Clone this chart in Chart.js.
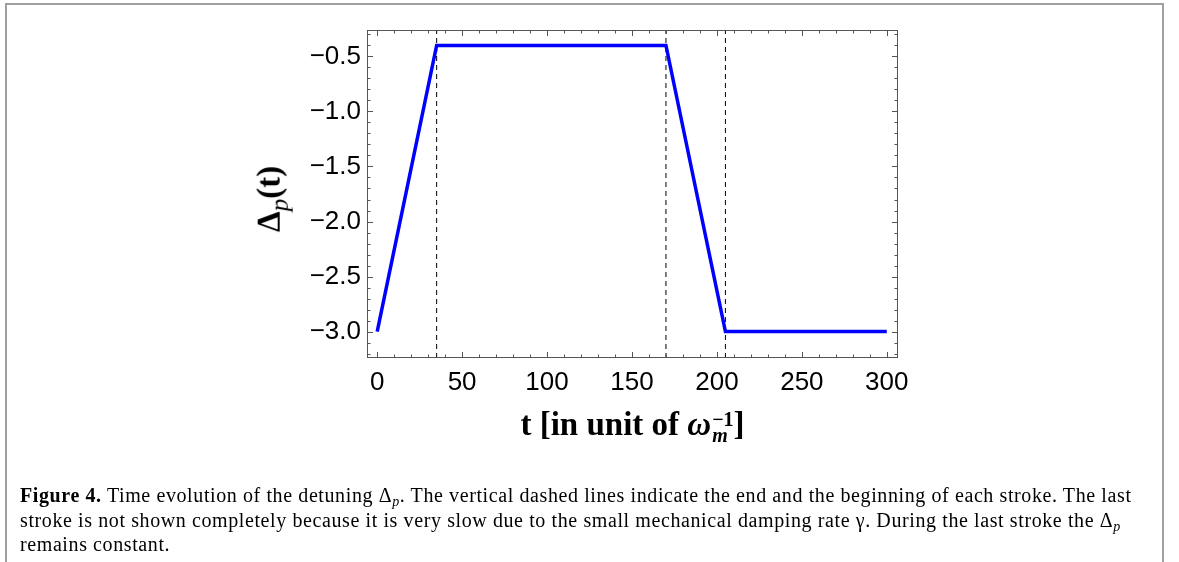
<!DOCTYPE html>
<html>
<head>
<meta charset="utf-8">
<script src="https://cdn.jsdelivr.net/npm/chart.js@4.4.1/dist/chart.umd.min.js"></script>
<style>
    html, body { margin: 0; padding: 0; background: #fff; }
    body { width: 1179px; height: 562px; position: relative; overflow: hidden; }
    #frame {
        position: absolute; left: 5px; top: 3px; width: 1155px; height: 600px;
        border: 2px solid #a0a0a0; border-bottom: none;
    }
    #chart-detuning { position: absolute; left: 0; top: 0; }
    .serif { font-family: "Liberation Serif", "Times New Roman", serif; color: #000; }
    #x-title {
        position: absolute; left: 367px; width: 531px; top: 406px;
        text-align: center; font-size: 33px; font-weight: bold; white-space: nowrap;
    }
    #x-title .stack { display: inline-block; vertical-align: middle; line-height: 16px; font-size: 20px; margin-left: 1px; }
    #x-title .stack span { display: block; text-align: left; }
    #y-title {
        position: absolute; left: 272px; top: 199px; font-size: 33px; font-weight: bold;
        transform: translate(-50%, -50%) rotate(-90deg); white-space: nowrap;
    }
    #y-title sub { font-size: 25px; font-weight: normal; }
    #caption {
        position: absolute; left: 20px; top: 483px; font-size: 20px; line-height: 24.5px;
        letter-spacing: 0.6px; white-space: nowrap;
    }
    #caption sub { font-size: 0.7em; vertical-align: baseline; position: relative; top: 0.3em; line-height: 0; }
</style>
</head>
<body>
<div id="frame"></div>
<canvas id="chart-detuning" width="1179" height="562"></canvas>
<div id="y-title" class="serif">&Delta;<sub><i>p</i></sub>(t)</div>
<div id="x-title" class="serif">t [in unit of <i>&omega;</i><span class="stack"><span>&minus;1</span><span><i>m</i></span></span>]</div>
<div id="caption" class="serif"><b>Figure 4.</b> Time evolution of the detuning &Delta;<sub><i>p</i></sub>. The vertical dashed lines indicate the end and the beginning of each stroke. The last<br>stroke is not shown completely because it is very slow due to the small mechanical damping rate &gamma;. During the last stroke the &Delta;<sub><i>p</i></sub><br>remains constant.</div>

<script>
// data
const times = [0, 35, 170, 205, 300]
const detuning = [-3.0, -0.4, -0.4, -3.0, -3.0]
const strokeTimes = [35, 170, 205]

// axes
const xTicks = [0, 50, 100, 150, 200, 250, 300]
const yTicks = [-3.0, -2.5, -2.0, -1.5, -1.0, -0.5]
const xMin = -6
const xMax = 306.6
const yMin = -3.24
const yMax = -0.26

const xMinor = []
for (let v = 0; v <= 300; v += 10) xMinor.push(v)
const yMinor = []
for (let v = -32; v <= -3; v++) yMinor.push(v / 10)

const fmt = (v) => (v < 0 ? '\u2212' : '') + Math.abs(v).toFixed(1)

// frame + inward ticks on all four sides, Mathematica style
const frameTicks = {
    id: 'frameTicks',
    afterDatasetsDraw(chart) {
        const { ctx, chartArea: a, scales } = chart
        const x = scales.x
        const y = scales.y
        ctx.save()
        ctx.strokeStyle = '#555'
        ctx.lineWidth = 1
        ctx.strokeRect(a.left + 0.5, a.top + 0.5, a.right - a.left - 1, a.bottom - a.top - 1)
        ctx.beginPath()
        xMinor.forEach((v) => {
            const px = Math.round(x.getPixelForValue(v)) + 0.5
            const len = v % 50 === 0 ? 6 : 3.5
            ctx.moveTo(px, a.bottom)
            ctx.lineTo(px, a.bottom - len)
            ctx.moveTo(px, a.top)
            ctx.lineTo(px, a.top + len)
        })
        yMinor.forEach((v) => {
            const py = Math.round(y.getPixelForValue(v)) + 0.5
            const len = Math.round(v * 10) % 5 === 0 ? 6 : 3.5
            ctx.moveTo(a.left, py)
            ctx.lineTo(a.left + len, py)
            ctx.moveTo(a.right, py)
            ctx.lineTo(a.right - len, py)
        })
        ctx.stroke()
        ctx.restore()
    },
}

const strokeSets = strokeTimes.map((t) => ({
    data: [{ x: t, y: yMin }, { x: t, y: yMax }],
    borderColor: '#000',
    borderWidth: 1,
    borderDash: [5, 4],
    pointRadius: 0,
    order: 2,
}))

const ctx = document.getElementById('chart-detuning').getContext('2d')
const chartDetuning = new Chart(ctx, {
    type: 'line',
    data: {
        datasets: [
            {
                data: times.map((t, i) => ({ x: t, y: detuning[i] })),
                borderColor: '#0000ff',
                borderWidth: 3.5,
                pointRadius: 0,
                borderJoinStyle: 'miter',
                order: 0,
            },
            ...strokeSets,
        ],
    },
    options: {
        responsive: false,
        animation: false,
        events: [],
        layout: {
            padding: { top: 30, right: 281, bottom: 164, left: 0 },
        },
        scales: {
            x: {
                type: 'linear',
                min: xMin,
                max: xMax,
                afterBuildTicks: (s) => { s.ticks = xTicks.map((v) => ({ value: v })) },
                afterFit: (s) => { s.height = 40 },
                grid: { display: false, drawTicks: false },
                border: { display: false },
                ticks: {
                    padding: 9,
                    color: '#000',
                    maxRotation: 0,
                    autoSkip: false,
                    font: { family: 'Liberation Sans', size: 26 },
                    callback: (v) => String(v),
                },
            },
            y: {
                type: 'linear',
                min: yMin,
                max: yMax,
                afterBuildTicks: (s) => { s.ticks = yTicks.map((v) => ({ value: v })) },
                afterFit: (s) => { s.width = 367 },
                grid: { display: false, drawTicks: false },
                border: { display: false },
                ticks: {
                    padding: 6,
                    color: '#000',
                    autoSkip: false,
                    font: { family: 'Liberation Sans', size: 26 },
                    callback: (v) => fmt(v),
                },
            },
        },
        plugins: {
            legend: { display: false },
            tooltip: { enabled: false },
        },
    },
    plugins: [frameTicks],
})
</script>
</body>
</html>
